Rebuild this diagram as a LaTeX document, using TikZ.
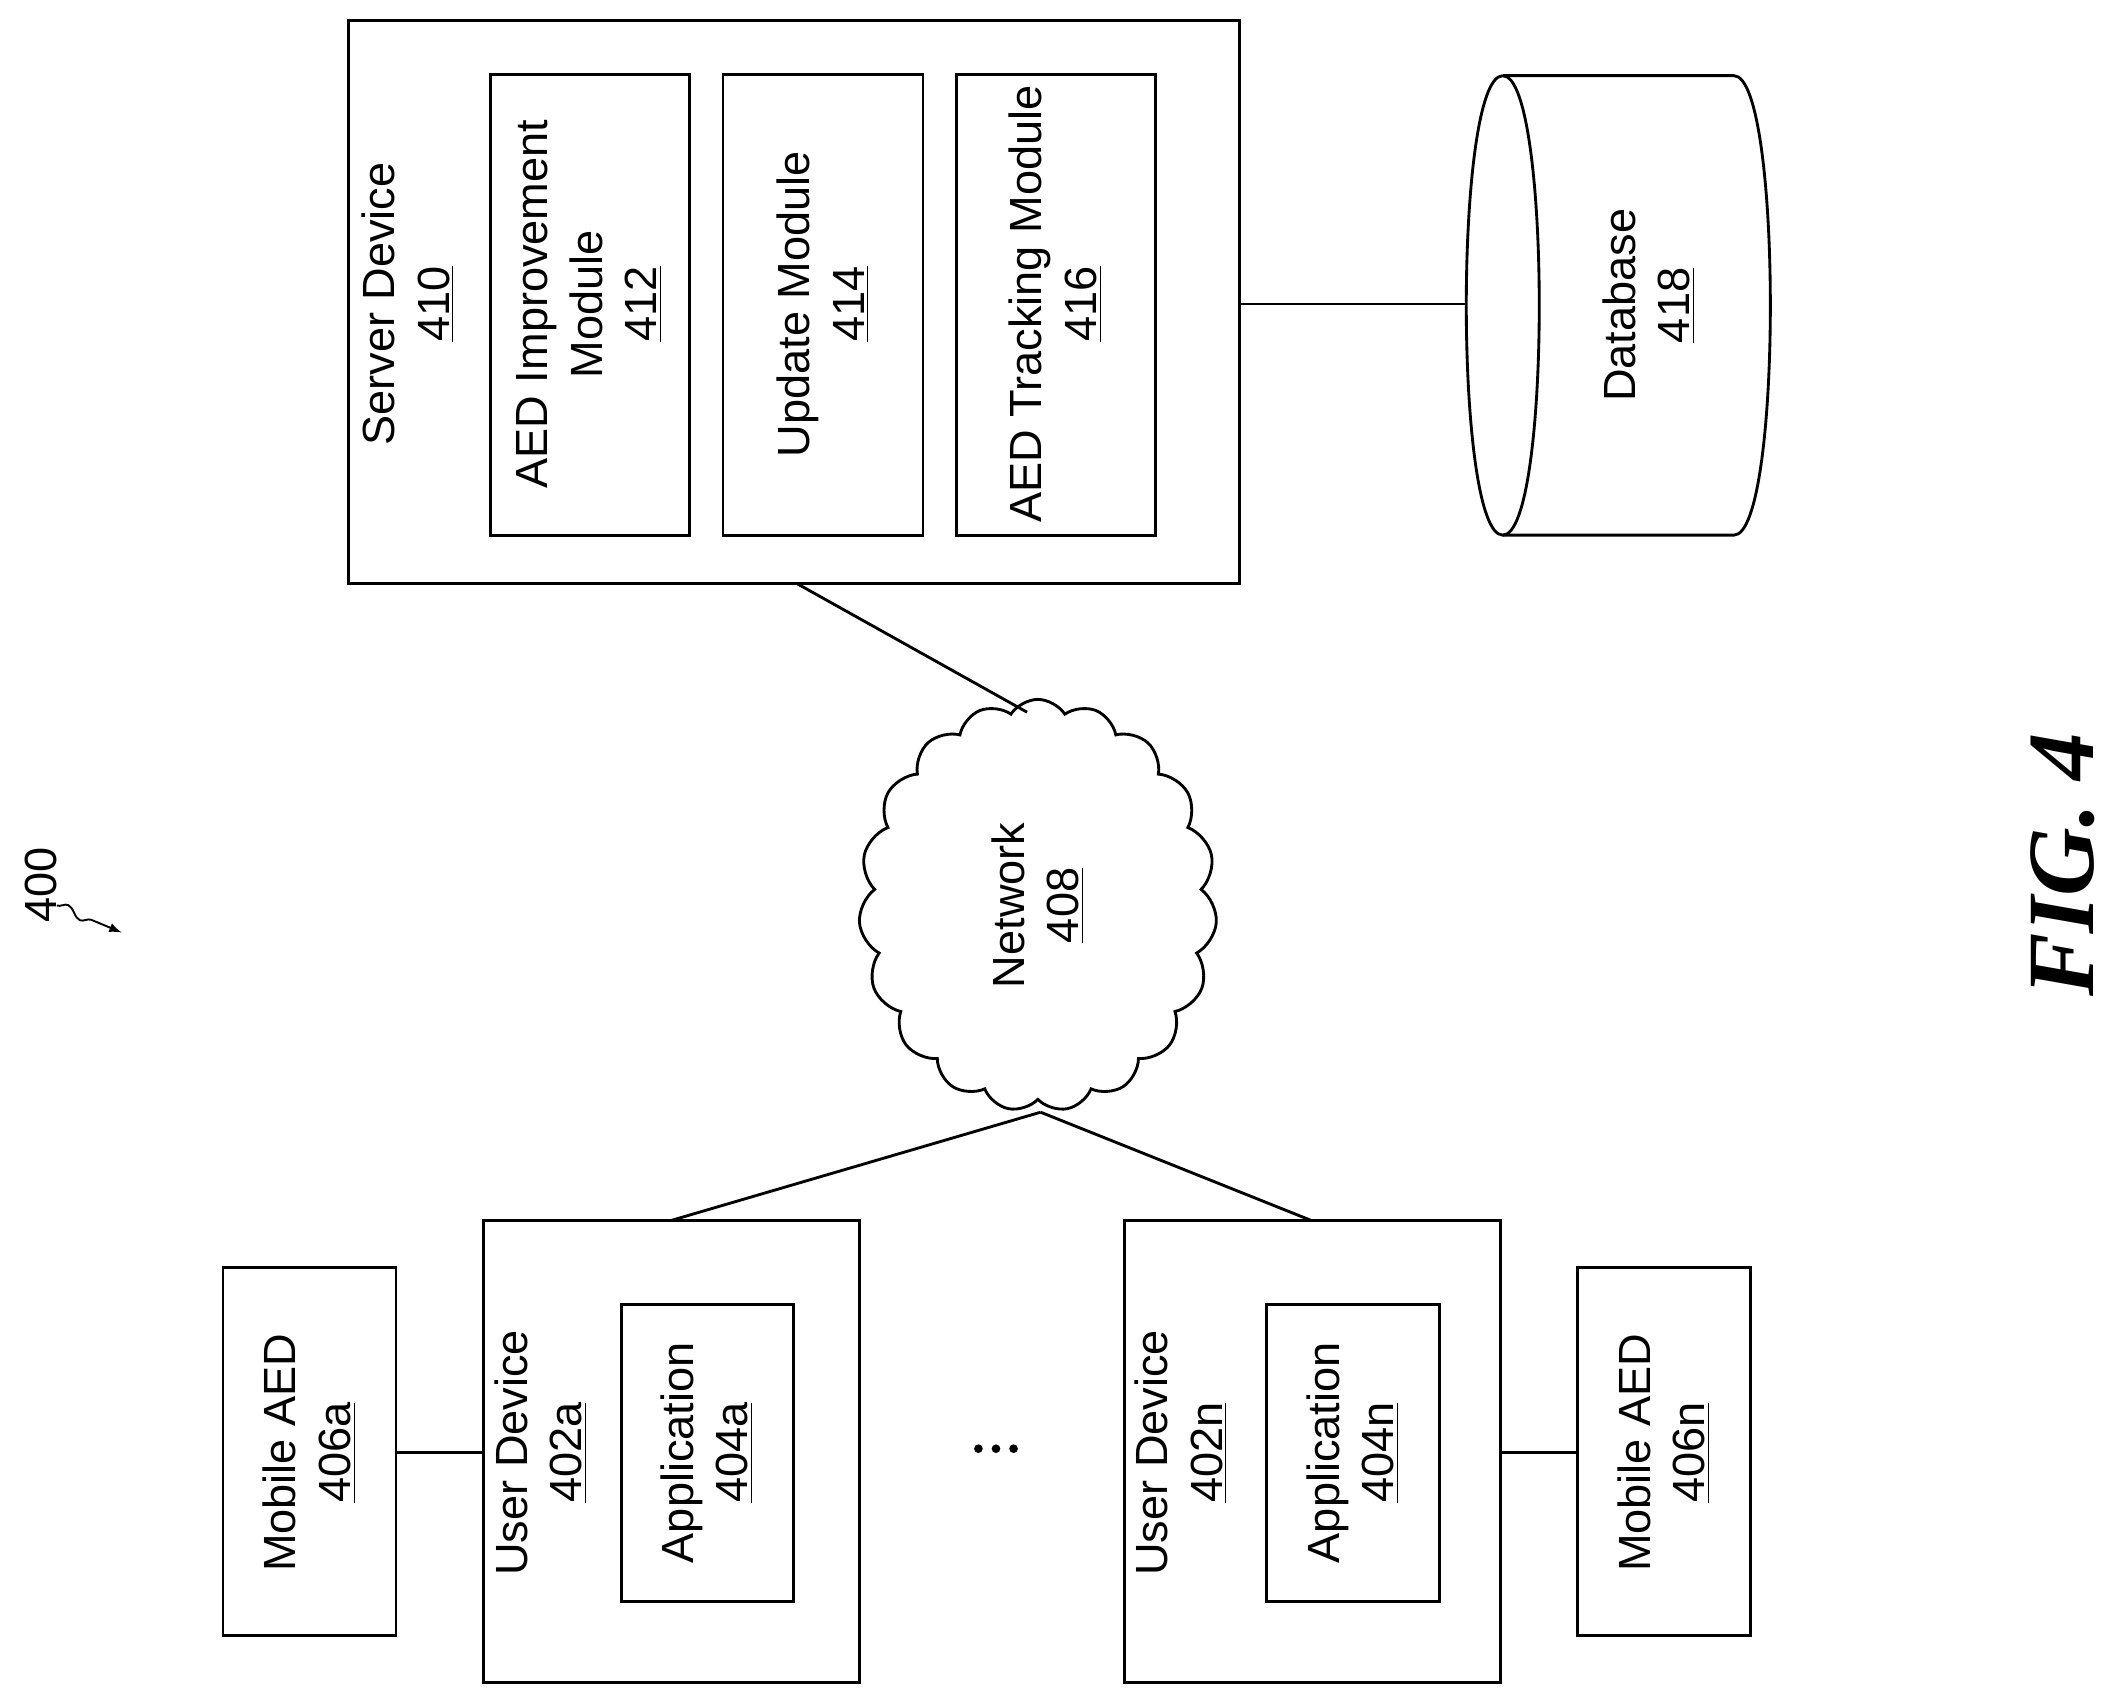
\documentclass[tikz,border=0pt]{standalone}
\usepackage{fontspec}
\setmainfont{Liberation Sans}
\newfontfamily\figfont{Liberation Serif}
\usetikzlibrary{shapes.symbols,decorations.pathmorphing}
\tikzset{
  box/.style={draw,line width=1.2pt},
  txt/.style={rotate=90,align=center,font=\fontsize{19}{23}\selectfont},
  wire/.style={line width=1.2pt}
}
\begin{document}
\begin{tikzpicture}[x=0.02cm,y=-0.02cm]
    \useasboundingbox (0,0) rectangle (1568,1263);
    % Server device with its modules
    \draw[box] (258,15) rectangle (917,432);
    \node[txt] (srv) at (302,225) {Server Device\\\underline{410}};
    \draw[box] (363,55) rectangle (510,396);
    \node[txt] (m412) at (436,225) {AED Improvement\\Module\\\underline{412}};
    \draw[box] (535,55) rectangle (683,396);
    \node[txt] (m414) at (609,225) {Update Module\\\underline{414}};
    \draw[box] (708,55) rectangle (855,396);
    \node[txt] (m416) at (781,225) {AED Tracking Module\\\underline{416}};
    % Database
    \draw[box] (1112,56) -- (1283,56) .. controls (1319,56) and (1319,396) .. (1283,396) -- (1112,396);
    \draw[box] (1112,56) .. controls (1076,56) and (1076,396) .. (1112,396)
                         .. controls (1148,396) and (1148,56) .. (1112,56);
    \node[txt] (db) at (1220,226) {Database\\\underline{418}};
    \coordinate (dbl) at (1085,225);
    \coordinate (srvr) at (917,225);
    \draw[wire] (srvr) -- (dbl);
    % Network
    \node[cloud,draw,line width=1.2pt,cloud puffs=19,cloud puff arc=115,aspect=0.85,inner sep=0pt,
          minimum width=5.3cm,minimum height=6.1cm] (net) at (768,670) {};
    \node[txt] at (net) {Network\\\underline{408}};
    \coordinate (srvb) at (590,432);
    \coordinate (nett) at (760,527);
    \draw[wire] (srvb) -- (nett);
    % User devices
    \draw[box] (358,903) rectangle (636,1245);
    \node[txt] (ud) at (400,1075) {User Device\\\underline{402a}};
    \draw[box] (460,965) rectangle (587,1185);
    \node[txt] (app) at (523,1075) {Application\\\underline{404a}};
    \draw[box] (165,938) rectangle (293,1210);
    \node[txt] (aed) at (229,1075) {Mobile AED\\\underline{406a}};
    \draw[box] (832,903) rectangle (1110,1245);
    \node[txt] (udn) at (874,1075) {User Device\\\underline{402n}};
    \draw[box] (937,965) rectangle (1065,1185);
    \node[txt] (appn) at (1001,1075) {Application\\\underline{404n}};
    \draw[box] (1167,938) rectangle (1295,1210);
    \node[txt] (aedn) at (1231,1075) {Mobile AED\\\underline{406n}};
    \coordinate (netb) at (770,823);
    \draw[wire] (293,1075) -- (358,1075);
    \draw[wire] (1110,1075) -- (1167,1075);
    \draw[wire] (netb) -- (497,903);
    \draw[wire] (netb) -- (970,903);
    \foreach \x in {724,737,750} \fill (\x,1072) circle (3.2);
    % Reference and figure labels
    \node[rotate=90,font=\fontsize{19}{23}\selectfont] (ref) at (30,655) {400};
    \draw[line width=0.8pt,-latex,decorate,decoration={snake,amplitude=2,segment length=14,post length=8}] (42,670) -- (90,690);
    \node[rotate=90,font=\figfont\bfseries\itshape\fontsize{40}{46}\selectfont] (fig) at (1526,640) {FIG. 4};
\end{tikzpicture}
\end{document}
